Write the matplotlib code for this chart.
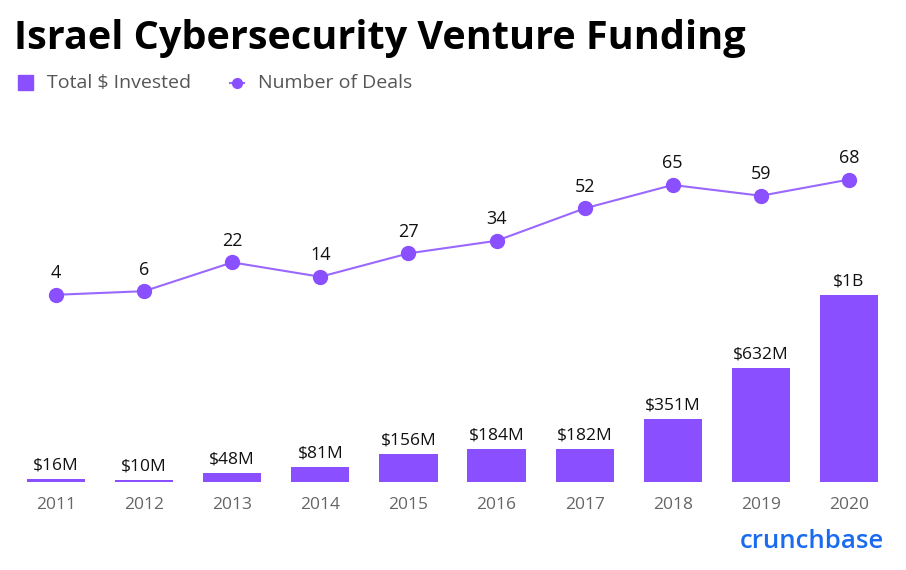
import matplotlib
matplotlib.use("Agg")
import matplotlib.pyplot as plt
from matplotlib.lines import Line2D
from matplotlib.patches import Rectangle

years = ["2011", "2012", "2013", "2014", "2015", "2016", "2017", "2018", "2019", "2020"]
invested_m = [16, 10, 48, 81, 156, 184, 182, 351, 632, 1040]
invested_labels = ["$16M", "$10M", "$48M", "$81M", "$156M", "$184M", "$182M", "$351M", "$632M", "$1B"]
deals = [4, 6, 22, 14, 27, 34, 52, 65, 59, 68]

BAR = "#8a4fff"
LINE = "#9a68ff"
FONT = "Open Sans"

W, H = 906, 570
fig = plt.figure(figsize=(W / 100, H / 100), dpi=100)
fig.patch.set_facecolor("white")

def fx(px):
    return px / W

def fy(py):
    return 1 - py / H

top_px, bot_px = 100, 482
ax = fig.add_axes([fx(12), fy(bot_px), fx(893 - 12), (bot_px - top_px) / H])
x = list(range(len(years)))
ax.bar(x, invested_m, width=0.66, color=BAR, zorder=2)
ax.set_xlim(-0.5, 9.5)
ax.set_ylim(0, (bot_px - top_px) / 0.18)
for i, (v, lab) in enumerate(zip(invested_m, invested_labels)):
    ax.annotate(lab, (i, v), xytext=(0, 4), textcoords="offset points",
                ha="center", va="bottom", fontsize=12.5, color="#111111", family=FONT)
ax.set_xticks(x)
ax.set_xticklabels(years, fontsize=12.5, color="#666666", family=FONT)
ax.tick_params(axis="x", length=0, pad=11)
ax.set_yticks([])
for s in ax.spines.values():
    s.set_visible(False)
ax.patch.set_alpha(0)

ax2 = ax.twinx()
ax2.plot(x, deals, color=LINE, lw=1.5, marker="o", markersize=10,
         markerfacecolor=BAR, markeredgecolor=BAR, zorder=3)
ax2.set_ylim(-100, 112.2)
for i, d in enumerate(deals):
    ax2.annotate(str(d), (i, d), xytext=(0, 9), textcoords="offset points",
                 ha="center", va="bottom", fontsize=13, color="#111111", family=FONT)
ax2.set_yticks([])
for s in ax2.spines.values():
    s.set_visible(False)

# Title
fig.text(fx(14), fy(38), "Israel Cybersecurity Venture Funding", fontsize=28.5,
         fontweight="bold", color="#000000", family=FONT, va="center", ha="left")

# Legend
fig.patches.append(Rectangle((fx(18), fy(90)), fx(15), 15 / H, color=BAR,
                             transform=fig.transFigure, figure=fig))
fig.text(fx(47), fy(83), "Total $ Invested", fontsize=14, color="#555555",
         family=FONT, va="center", ha="left")
fig.lines.append(Line2D([fx(230), fx(244)], [fy(83), fy(83)], color=LINE, lw=1.5,
                        transform=fig.transFigure, figure=fig))
fig.lines.append(Line2D([fx(237)], [fy(83)], marker="o", markersize=7, color=BAR,
                        transform=fig.transFigure, figure=fig))
fig.text(fx(258), fy(83), "Number of Deals", fontsize=14, color="#555555",
         family=FONT, va="center", ha="left")

# Brand
fig.text(fx(884), fy(541), "crunchbase", fontsize=18.5, fontweight="semibold",
         color="#1a6bf0", family=FONT, va="center", ha="right")

fig.savefig("out.png", dpi=100, facecolor="white")
